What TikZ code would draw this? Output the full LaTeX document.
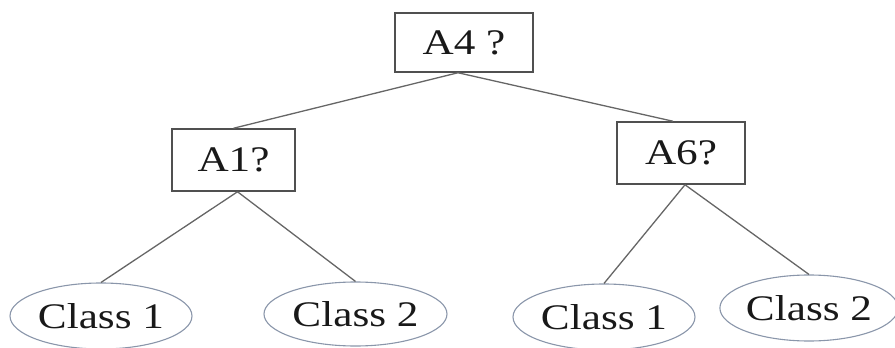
\documentclass[tikz,border=0pt]{standalone}
\usepackage{fontspec}
\setmainfont[FakeStretch=1.2]{Liberation Serif}
\usetikzlibrary{shapes.geometric}
\definecolor{boxline}{HTML}{505050}
\definecolor{edgeline}{HTML}{666666}
\definecolor{leafline}{HTML}{8A96AA}
\tikzset{
  test/.style={draw=boxline, line width=1.5pt, fill=white, inner sep=0pt,
    font=\fontsize{36}{40}\selectfont, text=black!90},
  leaf/.style={ellipse, draw=leafline, line width=1.1pt, fill=white, inner sep=0pt,
    font=\fontsize{36}{40}\selectfont, text=black!90},
  branch/.style={draw=edgeline, line width=1.3pt}
}
\begin{document}
\begin{tikzpicture}[x=1pt,y=-1pt]
  \useasboundingbox (0,0) rectangle (895,348);
  % decision nodes
  \node[test, minimum width=138pt, minimum height=59pt] (a4) at (464,42.5) {A4 ?};
  \node[test, minimum width=123pt, minimum height=62pt] (a1) at (233.5,160) {A1?};
  \node[test, minimum width=128pt, minimum height=62pt] (a6) at (681,153) {A6?};
  % leaves
  \node[leaf, minimum width=182pt, minimum height=66pt] (l1) at (101,316) {Class 1};
  \node[leaf, minimum width=183pt, minimum height=64pt] (l2) at (355.5,314) {Class 2};
  \node[leaf, minimum width=182pt, minimum height=66pt] (l3) at (604,317) {Class 1};
  \node[leaf, minimum width=172pt, minimum height=66pt] (l4) at (809,308) {Class 2};
  % branches
  \draw[branch] ([xshift=-6pt]a4.south) -- (a1.north);
  \draw[branch] ([xshift=-6pt]a4.south) -- ([xshift=-8pt]a6.north);
  \draw[branch] ([xshift=4pt]a1.south) -- (l1.north);
  \draw[branch] ([xshift=4pt]a1.south) -- (l2.north);
  \draw[branch] ([xshift=4pt]a6.south) -- (l3.north);
  \draw[branch] ([xshift=4pt]a6.south) -- (l4.north);
\end{tikzpicture}
\end{document}
